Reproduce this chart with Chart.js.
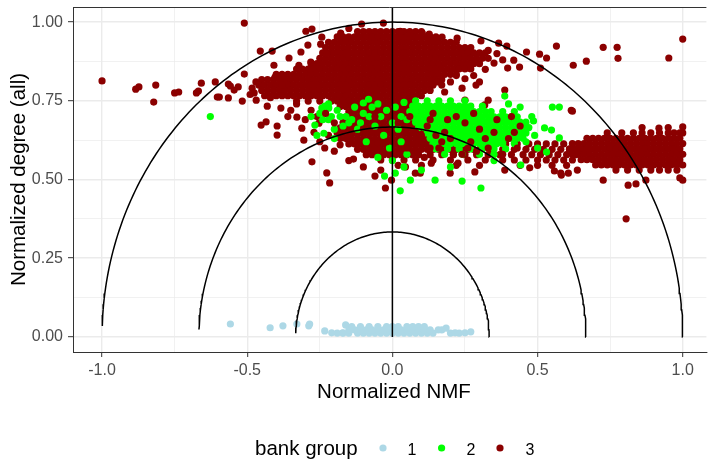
<!DOCTYPE html>
<html><head><meta charset="utf-8">
<script src="https://cdn.jsdelivr.net/npm/chart.js@4/dist/chart.umd.min.js"></script>
<style>html,body{margin:0;padding:0;background:#fff;overflow:hidden}</style>
</head><body>
<canvas id="c" width="710" height="459"></canvas>
<script>
// ---------- data ----------
const groupLabels = ['1', '2', '3'];
const xTickValues = [-1, -0.5, 0, 0.5, 1];
const xTickLabels = ['-1.0', '-0.5', '0.0', '0.5', '1.0'];
const xMinorValues = [-0.75, -0.25, 0.25, 0.75];
const yTickValues = [0, 0.25, 0.5, 0.75, 1];
const yTickLabels = ['0.00', '0.25', '0.50', '0.75', '1.00'];
const yMinorValues = [0.125, 0.375, 0.625, 0.875];
const arcRadii = [1/3, 2/3, 1];
const vLine = [[0, 0], [0, 1.1]];

// bank group 1
const group1Points = [
 [-0.558,0.041],[-0.421,0.029],[-0.377,0.035],[-0.329,0.041],[-0.288,0.035],[-0.285,0.041],
 [-0.233,0.019],[-0.209,0.013],[-0.171,0.013],[-0.161,0.038],[0.158,0.022],[0.185,0.028],
 [0.216,0.013],[0.25,0.013],[0.27,0.016]
];
const group1Rows = [
 [0.012, [-0.19,-0.17,-0.15,-0.12,-0.10,-0.08,-0.06,-0.04,-0.02,0.0,0.02,0.04,0.06,0.08,0.10,0.12,0.14,0.20,0.23]],
 [0.022, [-0.15,-0.13,-0.11,-0.09,-0.07,-0.05,-0.03,-0.01,0.01,0.03,0.05,0.07,0.09,0.11,0.13,0.17]],
 [0.033, [-0.14,-0.11,-0.08,-0.05,-0.02,0.0,0.02,0.05,0.07,0.09,0.11]]
];

// bank group 2
const group2Points = [
 [-0.627,0.70],[0.387,0.765],[0.551,0.73],[0.575,0.73],[0.486,0.686],[0.524,0.664],[0.548,0.657],
 [0.575,0.632],[0.531,0.587],[0.442,0.546],[0.305,0.473],[0.24,0.495],[0.147,0.498],[0.027,0.464],
 [0.062,0.498],[-0.027,0.511],[0.01,0.52],[-0.233,0.733],[-0.267,0.673],[-0.1,0.743],[-0.082,0.755],
 [-0.219,0.727],[-0.243,0.727],[-0.236,0.647],[-0.18,0.70],[-0.15,0.68],[-0.2,0.66],[0.1,0.53],
 [0.2,0.54],[0.35,0.56],[0.46,0.62],[0.5,0.6],[0.49,0.64],[0.48,0.7],[0.44,0.73],[0.4,0.74],
 [-0.25,0.71],[-0.22,0.69],[-0.19,0.72],[-0.16,0.70],[-0.13,0.73],[-0.10,0.71],[-0.07,0.73],
 [-0.04,0.70],[-0.02,0.72],[-0.12,0.66],[-0.06,0.67],[-0.03,0.64],[-0.09,0.62],[-0.01,0.60],
 [0.02,0.66],[0.03,0.62],[0.05,0.58],[0.0,0.56],[0.04,0.54],[-0.05,0.57],
 [-0.24,0.69],[-0.21,0.7],[-0.17,0.67],[-0.14,0.69],[-0.11,0.68],[-0.08,0.7],[-0.05,0.74],
 [-0.22,0.74],[-0.28,0.7],[-0.26,0.64],[-0.2,0.63],
 [0.01,0.73],[0.03,0.7],[0.0,0.68],[0.04,0.745],[0.05,0.69]
];
const group2Rows = [
 [0.750, [0.08,0.12,0.16,0.2,0.25]],
 [0.733, [0.07,0.09,0.11,0.13,0.15,0.17,0.19,0.21,0.23,0.25,0.27,0.31]],
 [0.716, [0.06,0.08,0.1,0.12,0.14,0.16,0.18,0.2,0.22,0.24,0.26,0.28,0.3,0.32,0.34,0.38,0.42]],
 [0.699, [0.07,0.09,0.11,0.13,0.15,0.17,0.19,0.21,0.23,0.25,0.27,0.29,0.31,0.33,0.35,0.37,0.39,0.41,0.43]],
 [0.682, [0.08,0.1,0.12,0.14,0.16,0.18,0.2,0.22,0.24,0.26,0.28,0.3,0.32,0.34,0.36,0.38,0.4,0.42,0.44,0.46]],
 [0.665, [0.09,0.11,0.13,0.15,0.17,0.19,0.21,0.23,0.25,0.27,0.29,0.31,0.33,0.35,0.37,0.39,0.41,0.43,0.45,0.47]],
 [0.648, [0.12,0.14,0.16,0.18,0.2,0.22,0.24,0.26,0.28,0.3,0.32,0.34,0.36,0.38,0.4,0.42,0.44,0.46]],
 [0.631, [0.13,0.15,0.17,0.19,0.21,0.23,0.25,0.27,0.29,0.31,0.33,0.35,0.37,0.39,0.41,0.43,0.45]],
 [0.614, [0.14,0.16,0.18,0.2,0.22,0.24,0.26,0.28,0.3,0.32,0.34,0.36,0.38,0.42]],
 [0.597, [0.15,0.19,0.23,0.27,0.31,0.35,0.39]],
 [0.580, [0.18,0.24,0.3,0.35]]
];

// bank group 3
const group3Rows = [
 [0.970, [-0.12,-0.1,-0.08,-0.06,-0.04,-0.02,0,0.02,0.04,0.06,0.08,0.1]],
 [0.953, [-0.19,-0.17,-0.15,-0.13,-0.11,-0.09,-0.07,-0.05,-0.03,-0.01,0.01,0.03,0.05,0.07,0.09,0.11,0.13,0.15]],
 [0.936, [-0.22,-0.2,-0.18,-0.16,-0.14,-0.12,-0.1,-0.08,-0.06,-0.04,-0.02,0,0.02,0.04,0.06,0.08,0.1,0.12,0.14,0.16,0.18,0.2,0.22]],
 [0.919, [-0.23,-0.21,-0.19,-0.17,-0.15,-0.13,-0.11,-0.09,-0.07,-0.05,-0.03,-0.01,0.01,0.03,0.05,0.07,0.09,0.11,0.13,0.15,0.17,0.19,0.21,0.23,0.25,0.27]],
 [0.902, [-0.24,-0.22,-0.2,-0.18,-0.16,-0.14,-0.12,-0.1,-0.08,-0.06,-0.04,-0.02,0,0.02,0.04,0.06,0.08,0.1,0.12,0.14,0.16,0.18,0.2,0.22,0.24,0.26,0.28,0.3,0.32]],
 [0.885, [-0.25,-0.23,-0.21,-0.19,-0.17,-0.15,-0.13,-0.11,-0.09,-0.07,-0.05,-0.03,-0.01,0.01,0.03,0.05,0.07,0.09,0.11,0.13,0.15,0.17,0.19,0.21,0.23,0.25,0.27,0.29,0.31,0.33]],
 [0.868, [-0.28,-0.26,-0.24,-0.22,-0.2,-0.18,-0.16,-0.14,-0.12,-0.1,-0.08,-0.06,-0.04,-0.02,0,0.02,0.04,0.06,0.08,0.1,0.12,0.14,0.16,0.18,0.2,0.22,0.24,0.26,0.28,0.3]],
 [0.851, [-0.33,-0.31,-0.29,-0.27,-0.25,-0.23,-0.21,-0.19,-0.17,-0.15,-0.13,-0.11,-0.09,-0.07,-0.05,-0.03,-0.01,0.01,0.03,0.05,0.07,0.09,0.11,0.13,0.15,0.17,0.19,0.21,0.23,0.25,0.27]],
 [0.834, [-0.4,-0.38,-0.36,-0.34,-0.32,-0.3,-0.28,-0.26,-0.24,-0.22,-0.2,-0.18,-0.16,-0.14,-0.12,-0.1,-0.08,-0.06,-0.04,-0.02,0,0.02,0.04,0.06,0.08,0.1,0.12,0.14,0.16,0.18,0.2,0.22]],
 [0.817, [-0.45,-0.43,-0.41,-0.39,-0.37,-0.35,-0.33,-0.31,-0.29,-0.27,-0.25,-0.23,-0.21,-0.19,-0.17,-0.15,-0.13,-0.11,-0.09,-0.07,-0.05,-0.03,-0.01,0.01,0.03,0.05,0.07,0.09,0.11,0.13,0.15,0.17]],
 [0.800, [-0.46,-0.44,-0.42,-0.4,-0.38,-0.36,-0.34,-0.32,-0.3,-0.28,-0.26,-0.24,-0.22,-0.2,-0.18,-0.16,-0.14,-0.12,-0.1,-0.08,-0.06,-0.04,-0.02,0,0.02,0.04,0.06,0.08,0.1,0.12,0.14]],
 [0.783, [-0.45,-0.43,-0.41,-0.39,-0.37,-0.35,-0.33,-0.31,-0.29,-0.27,-0.25,-0.23,-0.21,-0.19,-0.17,-0.15,-0.13,-0.11,-0.09,-0.07,-0.05,-0.03,-0.01,0.01,0.03,0.05,0.07,0.09,0.11,0.13]],
 [0.766, [-0.44,-0.42,-0.4,-0.38,-0.36,-0.34,-0.32,-0.3,-0.28,-0.26,-0.24,-0.22,-0.2,-0.18,-0.16,-0.14,-0.12,-0.1,-0.08,-0.06,-0.04,-0.02,0,0.02,0.04,0.06,0.08,0.1]],
 [0.749, [-0.33,-0.29,-0.25,-0.21,-0.19,-0.17,-0.15,-0.13,-0.11,-0.09,-0.07,-0.05,-0.03,-0.01,0.01,0.03,0.05,0.07]],
 [0.732, [-0.18,-0.16,-0.14,-0.12,-0.1,-0.08,-0.06,-0.04,-0.02,0,0.02,0.04,0.06]],
 [0.715, [-0.15,-0.13,-0.11,-0.09,-0.07,-0.05,-0.03,-0.01,0.01,0.03,0.05,0.07,0.09]],
 [0.698, [-0.16,-0.14,-0.12,-0.1,-0.08,-0.06,-0.04,-0.02,0,0.02,0.04,0.06,0.08]],
 [0.681, [-0.17,-0.15,-0.13,-0.11,-0.09,-0.07,-0.05,-0.03,-0.01,0.01,0.03,0.05,0.07,0.09,0.11]],
 [0.664, [-0.18,-0.16,-0.14,-0.12,-0.1,-0.08,-0.06,-0.04,-0.02,0,0.02,0.04,0.06,0.08,0.1,0.12]],
 [0.647, [-0.19,-0.17,-0.15,-0.13,-0.11,-0.09,-0.07,-0.05,-0.03,-0.01,0.01,0.03,0.05,0.07,0.09,0.11,0.13,0.15]],
 [0.630, [-0.18,-0.16,-0.14,-0.12,-0.1,-0.08,-0.06,-0.04,-0.02,0,0.02,0.04,0.06,0.08,0.1,0.12,0.14,0.16,0.18]],
 [0.613, [-0.15,-0.13,-0.11,-0.09,-0.07,-0.05,-0.03,-0.01,0.01,0.03,0.05,0.07,0.09,0.11,0.13,0.15,0.17,0.19,0.21,0.23,0.25]],
 [0.596, [-0.12,-0.1,-0.08,-0.06,-0.04,-0.02,0,0.02,0.04,0.06,0.08,0.1,0.12,0.14,0.16,0.18,0.2,0.22,0.24,0.26,0.28,0.3]],
 [0.579, [-0.09,-0.07,-0.05,-0.03,-0.01,0.01,0.03,0.05,0.07,0.09,0.13,0.17,0.21,0.25,0.29,0.33,0.37]],
 [0.562, [-0.04,0,0.04,0.08,0.14,0.2,0.26,0.32,0.38,0.42]],
 [0.545, [0.02,0.1,0.22,0.3]],
 [0.613, [0.35,0.39,0.43,0.47,0.5,0.53,0.56,0.59]],
 [0.596, [0.34,0.38,0.42,0.46,0.49,0.52,0.55,0.58,0.61,0.64]],
 [0.579, [0.41,0.45,0.48,0.51,0.54,0.57,0.6,0.63]],
 [0.562, [0.46,0.5,0.53,0.56,0.59,0.62]],
 [0.545, [0.44,0.5,0.55,0.6]],
 [0.648, [0.74,0.79,0.83,0.86,0.89,0.92,0.95,0.97,0.99,1.0]],
 [0.631, [0.67,0.69,0.71,0.73,0.75,0.77,0.79,0.81,0.83,0.85,0.87,0.89,0.91,0.93,0.95,0.97,0.99]],
 [0.614, [0.62,0.64,0.66,0.68,0.7,0.72,0.74,0.76,0.78,0.8,0.82,0.84,0.86,0.88,0.9,0.92,0.94,0.96,0.98,1.0]],
 [0.597, [0.61,0.63,0.65,0.67,0.69,0.71,0.73,0.75,0.77,0.79,0.81,0.83,0.85,0.87,0.89,0.91,0.93,0.95,0.97,0.99]],
 [0.580, [0.62,0.64,0.66,0.68,0.7,0.72,0.74,0.76,0.78,0.8,0.82,0.84,0.86,0.88,0.9,0.92,0.94,0.96,0.98,1.0]],
 [0.563, [0.65,0.67,0.69,0.71,0.73,0.75,0.77,0.79,0.81,0.83,0.85,0.87,0.89,0.91,0.93,0.95,0.97,0.99]],
 [0.546, [0.7,0.72,0.74,0.76,0.78,0.8,0.82,0.84,0.86,0.88,0.9,0.92,0.94,0.96,0.98,1.0]],
 [0.530, [0.77,0.81,0.85,0.89,0.92,0.95,0.98]]
];
const group3Points = [
 [-1.0,0.813],[-0.884,0.787],[-0.873,0.794],[-0.815,0.8],[-0.822,0.746],[-0.75,0.775],[-0.736,0.778],
 [-0.675,0.775],[-0.668,0.781],[-0.658,0.806],[-0.61,0.81],[-0.603,0.762],[-0.596,0.762],[-0.565,0.759],
 [-0.565,0.803],[-0.558,0.797],[-0.545,0.784],[-0.531,0.794],[-0.517,0.749],[-0.51,0.835],[-0.51,0.997],
 [-0.483,0.79],[-0.476,0.775],[-0.469,0.752],[-0.455,0.908],[-0.452,0.673],[-0.435,0.683],[-0.431,0.733],
 [-0.397,0.67],[-0.397,0.641],[-0.384,0.727],[-0.414,0.908],[-0.408,0.863],[-0.404,0.825],[-0.356,0.886],
 [-0.329,0.698],[-0.322,0.863],[-0.315,0.905],[-0.312,0.663],[-0.305,0.625],[-0.298,0.971],[-0.277,0.978],
 [-0.281,0.873],[-0.291,0.927],[-0.277,0.556],[-0.226,0.521],[-0.216,0.489],[-0.233,0.6],[-0.253,0.679],
 [-0.247,0.93],[-0.226,0.9],
 [-0.35,0.72],[-0.33,0.74],[-0.28,0.72],[-0.26,0.7],[-0.3,0.69],[-0.22,0.64],[-0.25,0.62],[-0.2,0.59],
 [-0.18,0.61],[-0.15,0.56],[-0.27,0.65],[-0.36,0.7],[-0.42,0.76],[-0.38,0.8],[-0.47,0.81],[-0.49,0.77],
 [-0.106,0.994],[-0.031,0.997],[0.027,0.971],[0.062,0.965],[0.103,0.965],[0.127,0.962],[0.171,0.952],
 [0.223,0.949],[0.305,0.94],[0.366,0.933],[0.394,0.924],[-0.243,0.952],[-0.178,0.965],[-0.15,0.98],
 [0.726,0.92],[0.774,0.92],[0.777,0.885],[0.952,0.886],[1.0,0.946],[0.668,0.876],[0.623,0.863],
 [0.531,0.886],[0.507,0.898],[0.462,0.905],[0.565,0.924],[0.51,0.854],[0.438,0.857],[0.397,0.854],
 [0.418,0.879],[0.36,0.9],[0.38,0.88],[0.35,0.87],[0.33,0.91],[0.32,0.85],[0.28,0.83],[0.25,0.82],
 [0.3,0.81],[0.22,0.83],[0.2,0.81],[0.17,0.8],[0.24,0.79],[0.288,0.8],[0.387,0.784],[0.25,0.752],
 [0.33,0.752],[0.18,0.778],[0.154,0.81],[0.318,0.737],[0.616,0.72],[0.459,0.663],
 [0.62,0.717],[0.726,0.498],[0.812,0.482],[0.839,0.486],[0.873,0.498],[0.805,0.375],[0.99,0.505],
 [1.0,0.498],[0.582,0.514],[0.606,0.52],[0.918,0.663],[1.0,0.667],[0.95,0.665],[0.86,0.665],
 [0.637,0.53],[0.558,0.527],[0.58,0.52],[0.473,0.537],[0.387,0.53],[0.284,0.524],[0.226,0.552],
 [0.199,0.52],[0.096,0.52],[0.134,0.552],
 [-0.06,0.511],[-0.024,0.473],[-0.003,0.498],[-0.134,0.565],[0.045,0.54],[0.079,0.52],[-0.04,0.53],[-0.1,0.54]
];
const group3OverPoints = [
 [0.12,0.67],[0.18,0.65],[0.22,0.7],[0.27,0.62],[0.3,0.66],[0.33,0.6],[0.4,0.63],[0.36,0.69],
 [0.16,0.6],[0.24,0.58],[0.09,0.62],[0.06,0.7],[0.2,0.63],[0.14,0.71],[0.43,0.6],[0.38,0.58],
 [0.28,0.71],[0.25,0.68],[0.11,0.57],[0.05,0.6],[0.02,0.68],[-0.02,0.62],[-0.06,0.7],[-0.1,0.66],
 [-0.15,0.64],[-0.2,0.68],[-0.23,0.71],[0.44,0.67],[0.41,0.7],[0.08,0.65],
 [0.13,0.6],[0.17,0.62],[0.21,0.58],[0.15,0.64],[0.19,0.69],[0.26,0.6],[0.29,0.59],[0.32,0.63],
 [0.1,0.64],[0.13,0.69],[0.35,0.65],[0.42,0.65]
];

// ---------- build ----------
const C1 = '#ADD8E6', C2 = '#00FF00', C3 = '#8B0000';
const pairs = a => a.map(([x, y]) => ({x, y}));
const rows = r => r.flatMap(([y, xs]) => xs.map(x => ({x, y})));
const arcData = r => {
  const out = [], n = 180, end = Math.PI - 0.035;
  for (let i = 0; i <= n; i++) { const a = end * i / n; out.push({x: r * Math.cos(a), y: r * Math.sin(a)}); }
  return out;
};
const PR = 3.6;
const pointDs = (label, data, color, order) => ({label, data, order, backgroundColor: color, borderWidth: 0, pointRadius: PR, pointHoverRadius: PR, showLine: false});
const lineDs = (data) => ({label: '', data, order: 0, showLine: true, borderColor: '#000', borderWidth: 1.5, pointRadius: 0, fill: false, tension: 0});

const datasets = [
  pointDs(groupLabels[0], rows(group1Rows).concat(pairs(group1Points)), C1, 4),
  pointDs(groupLabels[2], rows(group3Rows).concat(pairs(group3Points)), C3, 3),
  pointDs(groupLabels[1], rows(group2Rows).concat(pairs(group2Points)), C2, 2),
  pointDs(groupLabels[2], pairs(group3OverPoints), C3, 1),
  ...arcRadii.map(r => lineDs(arcData(r))),
  lineDs(pairs(vLine))
];

const FONT = '"Liberation Sans", Arial, sans-serif';
const isIn = (arr, v) => arr.some(t => Math.abs(t - v) < 1e-9);

const decor = {
  id: 'decor',
  afterDraw(chart) {
    const {ctx, chartArea: a} = chart;
    ctx.save();
    ctx.strokeStyle = '#333333'; ctx.lineWidth = 1;
    ctx.beginPath(); ctx.moveTo(a.left, a.top + 0.5); ctx.lineTo(a.right, a.top + 0.5); ctx.stroke();
    ctx.fillStyle = '#000';
    ctx.font = '20.5px ' + FONT;
    ctx.textAlign = 'center'; ctx.textBaseline = 'alphabetic';
    ctx.fillText('Normalized NMF', 394, 398);
    ctx.save();
    ctx.translate(25, (a.top + a.bottom) / 2);
    ctx.rotate(-Math.PI / 2);
    ctx.fillText('Normalized degree (all)', 0, 0);
    ctx.restore();
    // legend
    ctx.textAlign = 'left';
    ctx.fillText('bank group', 255, 455);
    const keyX = [383, 441.6, 500], labX = [412, 471, 530], cols = [C1, C2, C3];
    ctx.font = '16px ' + FONT; ctx.textAlign = 'center';
    for (let i = 0; i < 3; i++) {
      ctx.fillStyle = cols[i];
      ctx.beginPath(); ctx.arc(keyX[i], 448, PR, 0, Math.PI * 2); ctx.fill();
      ctx.fillStyle = '#000';
      ctx.fillText(groupLabels[i], labX[i], 455);
    }
    ctx.restore();
  }
};

const gridOpts = (minor) => ({
  color: '#EBEBEB',
  lineWidth: c => (c.tick && isIn(minor, c.tick.value)) ? 0.7 : 1.4,
  tickColor: c => (c.tick && isIn(minor, c.tick.value)) ? 'rgba(0,0,0,0)' : '#333333',
  tickLength: 5, tickWidth: 1, drawTicks: true
});

new Chart(document.getElementById('c'), {
  type: 'scatter',
  data: {datasets},
  options: {
    responsive: false, animation: false, events: [],
    layout: {padding: {top: 7, left: 0, right: 0, bottom: 0}},
    plugins: {legend: {display: false}, tooltip: {enabled: false}},
    scales: {
      x: {
        type: 'linear', min: -1.1, max: 1.0815,
        afterBuildTicks: s => { s.ticks = xTickValues.concat(xMinorValues).sort((p, q) => p - q).map(v => ({value: v})); },
        afterFit: s => { s.height = 107; s.paddingLeft = 0; s.paddingRight = 0; },
        grid: gridOpts(xMinorValues),
        border: {display: true, color: '#333333', width: 1},
        ticks: {autoSkip: false, maxRotation: 0, padding: 4, color: '#4D4D4D', font: {family: FONT, size: 16},
          callback: v => { const i = xTickValues.findIndex(t => Math.abs(t - v) < 1e-9); return i >= 0 ? xTickLabels[i] : ''; }}
      },
      y: {
        type: 'linear', min: -0.048, max: 1.048,
        afterBuildTicks: s => { s.ticks = yTickValues.concat(yMinorValues).sort((p, q) => p - q).map(v => ({value: v})); },
        afterFit: s => { s.width = 73; s.paddingTop = 0; s.paddingBottom = 0; },
        grid: gridOpts(yMinorValues),
        border: {display: true, color: '#333333', width: 1},
        ticks: {autoSkip: false, padding: 5, color: '#4D4D4D', font: {family: FONT, size: 16},
          callback: v => { const i = yTickValues.findIndex(t => Math.abs(t - v) < 1e-9); return i >= 0 ? yTickLabels[i] : ''; }}
      }
    }
  },
  plugins: [decor]
});
</script></body></html>
